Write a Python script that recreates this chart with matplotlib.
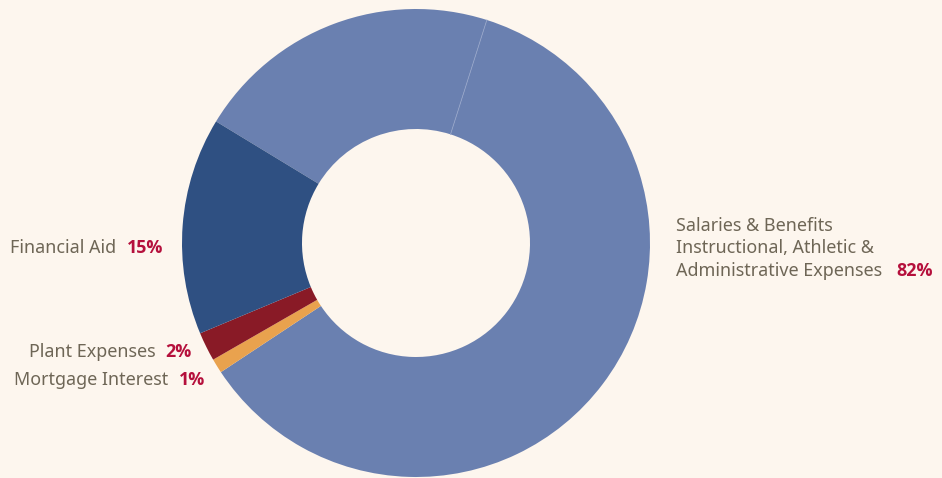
import numpy as np
import matplotlib
matplotlib.use('Agg')
import matplotlib.pyplot as plt
from matplotlib import font_manager

plt.rcParams['font.family'] = ['Noto Sans', 'DejaVu Sans']

# ========== data ==========
slices = ['Salaries & Benefits', 'Instructional, Athletic & Administrative Expenses',
          'Mortgage Interest', 'Plant Expenses', 'Financial Aid']
values = [21.2, 60.8, 1, 2, 15]
colors = ['#6a80b0', '#6a80b0', '#e9a24e', '#891a26', '#2f5082']

# label groups: (lines of name, percent)
labels_left = [
    (['Financial Aid'], 15),
    (['Plant Expenses'], 2),
    (['Mortgage Interest'], 1),
]
label_right = (['Salaries & Benefits', 'Instructional, Athletic &', 'Administrative Expenses'], 82)

bg = '#fdf6ee'
txt_col = '#6e6656'
pct_col = '#b5103c'

# pick a family that really has a static bold face file
bold_family = 'DejaVu Sans'
for fam in ['Noto Sans', 'Open Sans', 'Lato', 'Roboto', 'Liberation Sans']:
    try:
        p = font_manager.findfont(font_manager.FontProperties(family=fam, weight='bold'),
                                  fallback_to_default=False)
        if 'bold' in p.lower().split('/')[-1]:
            bold_family = fam
            break
    except Exception:
        pass

W, H = 942, 478
fig = plt.figure(figsize=(W / 100, H / 100), dpi=100, facecolor=bg)
ax = fig.add_axes([0, 0, 1, 1])

cx, cy, R = 416, H - 243, 234
ring = 1 - 114 / 234
start = 148.7
ax.pie(values, colors=colors, startangle=start, counterclock=False,
       center=(cx, cy), radius=R,
       wedgeprops=dict(width=R * ring, linewidth=0))

# pie() resets limits, so set pixel-like limits afterwards
ax.set_xlim(0, W)
ax.set_ylim(0, H)
ax.set_aspect('equal')
ax.axis('off')

# thin separator between the two big slices
theta = np.deg2rad(start - 360 * values[0] / sum(values))
r0, r1 = R * (1 - ring), R
ax.plot([cx + r0 * np.cos(theta), cx + r1 * np.cos(theta)],
        [cy + r0 * np.sin(theta), cy + r1 * np.sin(theta)],
        color='#93a3c8', lw=0.6)

fs = 12.9
fig.canvas.draw()
renderer = fig.canvas.get_renderer()

# left labels: right aligned, percent at end
left_pos = [(163, H - 253), (192, H - 357), (205, H - 385)]
for (lines, pct), (xe, yb) in zip(labels_left, left_pos):
    t = ax.text(xe, yb, f'{pct}%', ha='right', va='baseline', fontsize=fs,
                fontweight='bold', family=[bold_family, 'DejaVu Sans'], color=pct_col)
    bb = t.get_window_extent(renderer)
    ax.text(bb.x0 - 10, yb, lines[0], ha='right', va='baseline', fontsize=fs,
            color=txt_col)

# right label
lines, pct = label_right
x0 = 676
ys = [H - 231, H - 253, H - 276]
for ln, yb in zip(lines, ys):
    t = ax.text(x0, yb, ln, ha='left', va='baseline', fontsize=fs, color=txt_col)
bb = t.get_window_extent(renderer)
ax.text(bb.x1 + 14, ys[-1], f'{pct}%', ha='left', va='baseline', fontsize=fs,
        fontweight='bold', family=[bold_family, 'DejaVu Sans'], color=pct_col)

fig.savefig('out.png', dpi=100, facecolor=bg)
